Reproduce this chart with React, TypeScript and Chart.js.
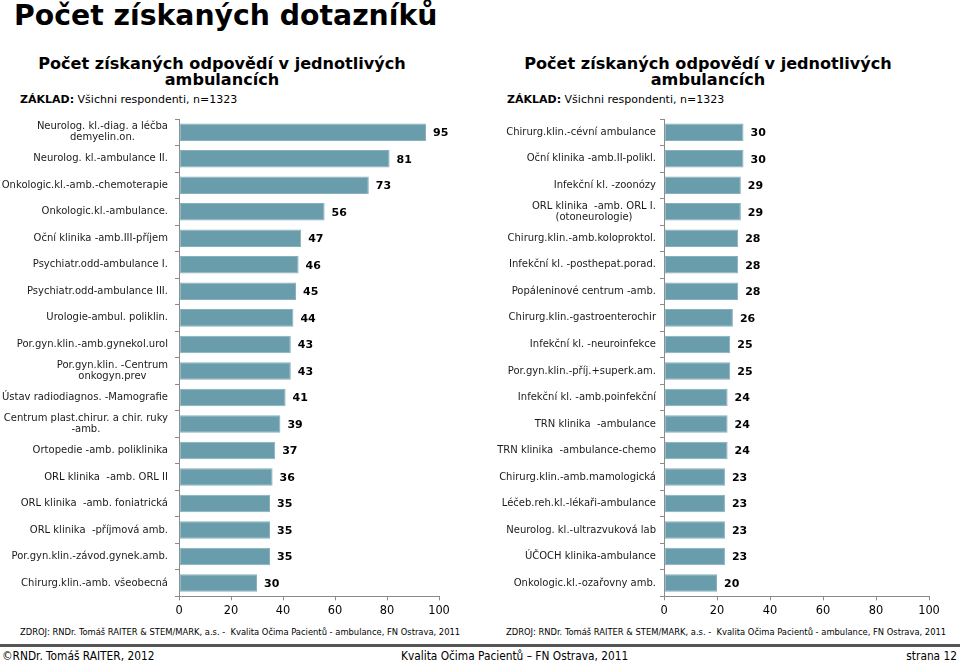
import React, { useEffect, useRef } from "react";
import { Chart, registerables } from "chart.js";

Chart.register(...registerables);

const leftCategories: (string | string[])[] = [
  ["Neurolog. kl.-diag. a léčba", "demyelin.on."],
  "Neurolog. kl.-ambulance II.",
  "Onkologic.kl.-amb.-chemoterapie",
  "Onkologic.kl.-ambulance.",
  "Oční klinika -amb.III-příjem",
  "Psychiatr.odd-ambulance I.",
  "Psychiatr.odd-ambulance III.",
  "Urologie-ambul. poliklin.",
  "Por.gyn.klin.-amb.gynekol.urol",
  ["Por.gyn.klin. -Centrum", "onkogyn.prev"],
  "Ústav radiodiagnos. -Mamografie",
  ["Centrum plast.chirur. a chir. ruky", "-amb."],
  "Ortopedie -amb. poliklinika",
  "ORL klinika  -amb. ORL II",
  "ORL klinika  -amb. foniatrická",
  "ORL klinika  -příjmová amb.",
  "Por.gyn.klin.-závod.gynek.amb.",
  "Chirurg.klin.-amb. všeobecná",
];
const leftValues = [95, 81, 73, 56, 47, 46, 45, 44, 43, 43, 41, 39, 37, 36, 35, 35, 35, 30];

const rightCategories: (string | string[])[] = [
  "Chirurg.klin.-cévní ambulance",
  "Oční klinika -amb.II-polikl.",
  "Infekční kl. -zoonózy",
  ["ORL klinika  -amb. ORL I.", "(otoneurologie)"],
  "Chirurg.klin.-amb.koloproktol.",
  "Infekční kl. -posthepat.porad.",
  "Popáleninové centrum -amb.",
  "Chirurg.klin.-gastroenterochir",
  "Infekční kl. -neuroinfekce",
  "Por.gyn.klin.-příj.+superk.am.",
  "Infekční kl. -amb.poinfekční",
  "TRN klinika  -ambulance",
  "TRN klinika  -ambulance-chemo",
  "Chirurg.klin.-amb.mamologická",
  "Léčeb.reh.kl.-lékaři-ambulance",
  "Neurolog. kl.-ultrazvuková lab",
  "ÚČOCH klinika-ambulance",
  "Onkologic.kl.-ozařovny amb.",
];
const rightValues = [30, 30, 29, 29, 28, 28, 28, 26, 25, 25, 24, 24, 24, 23, 23, 23, 23, 20];

const xTicks = [0, 20, 40, 60, 80, 100];

const BAR_COLOR = "#6a9dac";
const AXIS_COLOR = "#8a8a8a";
const FONT = "'DejaVu Sans', Verdana, sans-serif";
const COND = "'DejaVu Sans Condensed', 'DejaVu Sans', sans-serif";

type BarProps = {
  labels: (string | string[])[];
  values: number[];
  yAxisWidth: number;
  padRight: number;
  labelRight: number;
};

function BarPanel({ labels, values, yAxisWidth, padRight, labelRight }: BarProps) {
  const ref = useRef<HTMLCanvasElement | null>(null);
  useEffect(() => {
    if (!ref.current) return;
    const labelPlugin = {
      id: "customLabels",
      afterDraw(chart: any) {
        const ctx = chart.ctx;
        const ys = chart.scales.y;
        ctx.save();
        ctx.font = `10px ${FONT}`;
        ctx.fillStyle = "#1a1a1a";
        ctx.textBaseline = "middle";
        ctx.textAlign = "center";
        labels.forEach((lab, i) => {
          const lines = Array.isArray(lab) ? lab : [lab];
          const w = Math.max(...lines.map((l) => ctx.measureText(l).width));
          const cx = labelRight - w / 2;
          const cy = ys.getPixelForValue(i);
          const lh = 11;
          lines.forEach((l, k) => {
            ctx.fillText(l, cx, cy + (k - (lines.length - 1) / 2) * lh);
          });
        });
        ctx.restore();
      },
      afterDatasetsDraw(chart: any) {
        const ctx = chart.ctx;
        const meta = chart.getDatasetMeta(0);
        ctx.save();
        ctx.font = `bold 11px ${FONT}`;
        ctx.fillStyle = "#000";
        ctx.textBaseline = "middle";
        ctx.textAlign = "left";
        meta.data.forEach((bar: any, i: number) => {
          ctx.fillText(String(values[i]), bar.x + 7, bar.y + 1);
        });
        ctx.restore();
      },
    };
    const chart = new Chart(ref.current, {
      type: "bar",
      data: {
        labels: labels as any,
        datasets: [
          {
            data: values,
            backgroundColor: BAR_COLOR,
            borderColor: "#86b1bd",
            borderWidth: 1,
            borderSkipped: false,
            categoryPercentage: 1,
            barPercentage: 0.66,
          },
        ],
      },
      options: {
        indexAxis: "y",
        animation: false,
        responsive: false,
        maintainAspectRatio: false,
        layout: { padding: { left: 0, right: padRight, top: 7.7, bottom: 0 } },
        plugins: { legend: { display: false }, tooltip: { enabled: false } },
        scales: {
          x: {
            min: 0,
            max: 100,
            afterBuildTicks: (s: any) => {
              s.ticks = xTicks.map((v) => ({ value: v }));
            },
            ticks: { font: { family: FONT, size: 11.4 }, color: "#000", padding: 4, maxRotation: 0 },
            grid: { drawOnChartArea: false, drawTicks: true, tickLength: 4, color: AXIS_COLOR },
            border: { color: AXIS_COLOR },
            afterFit: (s: any) => {
              s.height = 25.7;
            },
          },
          y: {
            ticks: { color: "rgba(0,0,0,0)", font: { family: FONT, size: 10 }, autoSkip: false },
            grid: { offset: true, drawOnChartArea: false, drawTicks: true, tickLength: 4, color: AXIS_COLOR },
            border: { color: AXIS_COLOR },
            afterFit: (s: any) => {
              s.width = yAxisWidth;
            },
          },
        },
      },
      plugins: [labelPlugin],
    });
    return () => chart.destroy();
  }, []);
  return <canvas ref={ref} width={480} height={512} style={{ display: "block", width: 480, height: 512 }} />;
}

const abs = (o: React.CSSProperties): React.CSSProperties => ({ position: "absolute", margin: 0, whiteSpace: "nowrap", ...o });

function Subtitle({ center, zakladX }: { center: number; zakladX: number }) {
  return (
    <>
      <div
        style={abs({
          left: center - 240,
          width: 480,
          top: 56,
          textAlign: "center",
          font: `bold 16.1px/16.3px ${FONT}`,
          color: "#000",
        })}
      >
        Počet získaných odpovědí v jednotlivých
        <br />
        ambulancích
      </div>
      <div style={abs({ left: zakladX, top: 93, font: `11px/14px ${FONT}`, color: "#000" })}>
        <b>ZÁKLAD:</b> Všichni respondenti, n=1323
      </div>
    </>
  );
}

export default function App() {
  return (
    <div style={{ position: "fixed", left: 0, top: 0, width: 960, height: 663, background: "#fff", overflow: "hidden" }}>
      <div style={abs({ left: 14, top: 1, font: `bold 28.3px/30px ${FONT}`, color: "#000" })}>Počet získaných dotazníků</div>
      <Subtitle center={222} zakladX={20} />
      <Subtitle center={708} zakladX={507} />
      <div style={abs({ left: 0, top: 110 })}>
        <BarPanel labels={leftCategories} values={leftValues} yAxisWidth={179} padRight={41} labelRight={168} />
      </div>
      <div style={abs({ left: 480, top: 110 })}>
        <BarPanel labels={rightCategories} values={rightValues} yAxisWidth={184} padRight={31} labelRight={176} />
      </div>
      <div style={abs({ left: 20, top: 626, font: `9.3px/12px ${COND}`, color: "#000" })}>
        ZDROJ: RNDr. Tomáš RAITER &amp; STEM/MARK, a.s. -&nbsp; Kvalita Očima Pacientů - ambulance, FN Ostrava, 2011
      </div>
      <div style={abs({ left: 506, top: 626, font: `9.3px/12px ${COND}`, color: "#000" })}>
        ZDROJ: RNDr. Tomáš RAITER &amp; STEM/MARK, a.s. -&nbsp; Kvalita Očima Pacientů - ambulance, FN Ostrava, 2011
      </div>
      <div style={abs({ left: 0, top: 644, width: 960, height: 3, background: "#555" })} />
      <div style={abs({ left: 2, top: 649, font: `11.8px/14px ${COND}`, color: "#000" })}>
        ©RNDr. Tomáš RAITER, 2012
      </div>
      <div style={abs({ left: 401, top: 649, font: `11.8px/14px ${COND}`, color: "#000" })}>
        Kvalita Očima Pacientů – FN Ostrava, 2011
      </div>
      <div style={abs({ right: 3, top: 649, font: `11.8px/14px ${COND}`, color: "#000" })}>
        strana 12
      </div>
    </div>
  );
}
